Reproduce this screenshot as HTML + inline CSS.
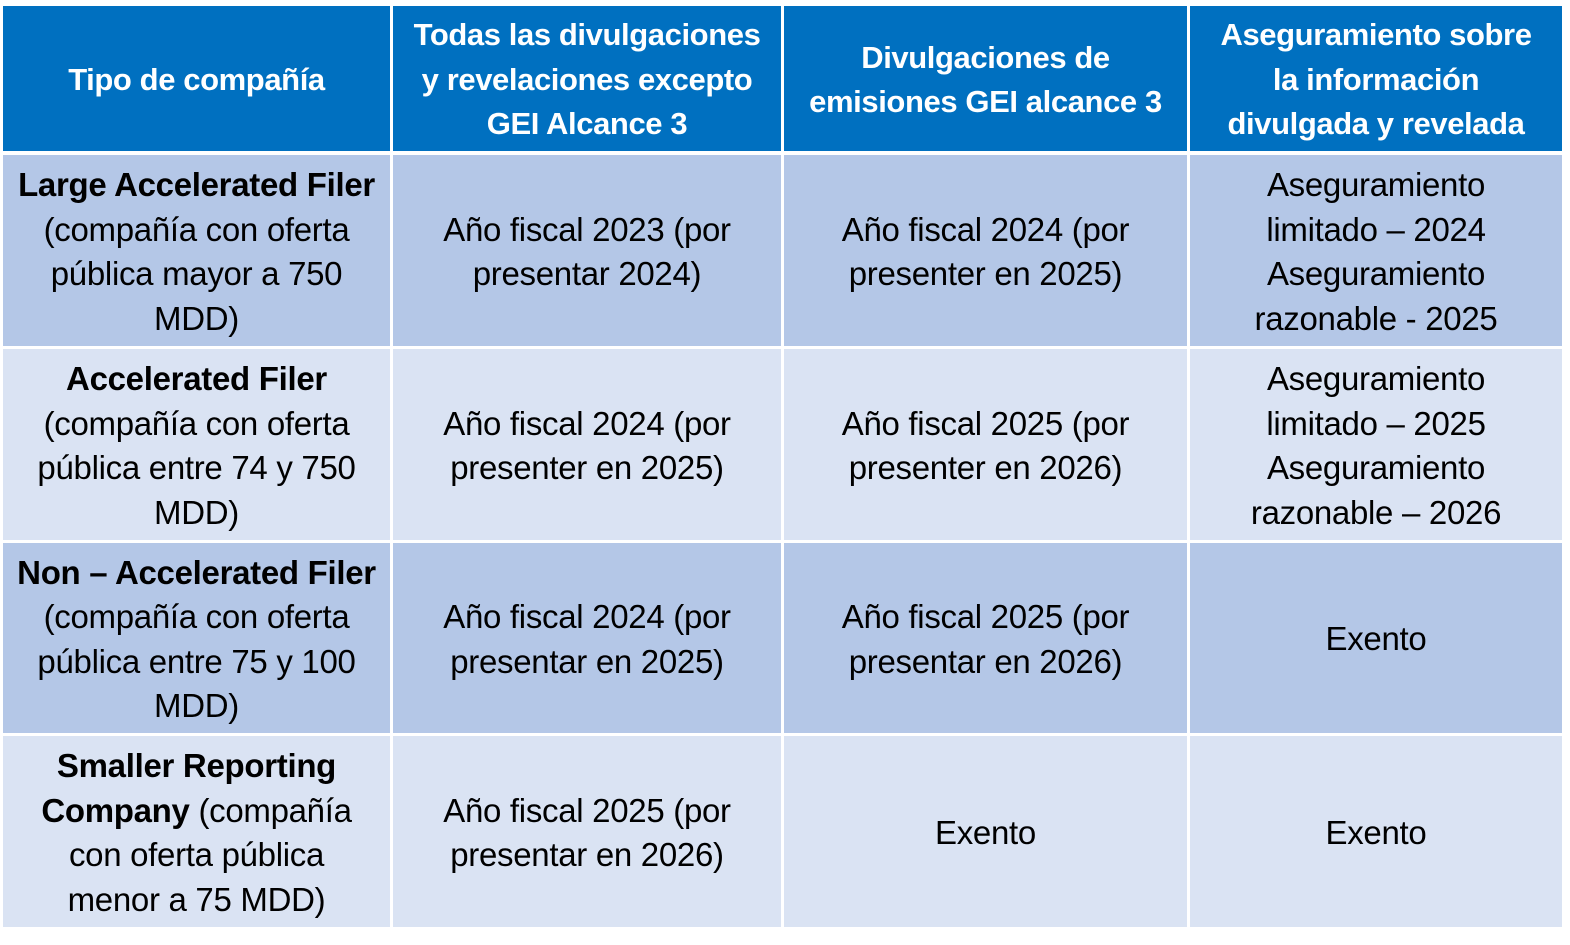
<!DOCTYPE html>
<html><head><meta charset="utf-8"><style>
body{margin:0;width:1570px;height:945px;background:#fff;position:relative;overflow:hidden;font-family:"Liberation Sans",sans-serif;}
.c{position:absolute;display:flex;align-items:center;justify-content:center;text-align:center;font-size:33px;line-height:44.5px;color:#000;letter-spacing:-0.3px;padding-top:3px;box-sizing:border-box;white-space:nowrap;}
.h{background:#0070C0;color:#fff;font-weight:bold;font-size:31px;letter-spacing:-0.4px;}
.a{background:#B4C7E7}.b{background:#DAE3F3}
</style></head><body>
<div class="c h" style="left:3px;top:6px;width:387px;height:145px">Tipo de compañía</div>
<div class="c h" style="left:393px;top:6px;width:388px;height:145px">Todas las divulgaciones<br>y revelaciones excepto<br>GEI Alcance 3</div>
<div class="c h" style="left:784px;top:6px;width:403px;height:145px">Divulgaciones de<br>emisiones GEI alcance 3</div>
<div class="c h" style="left:1190px;top:6px;width:372px;height:145px">Aseguramiento sobre<br>la información<br>divulgada y revelada</div>

<div class="c a" style="left:3px;top:155px;width:387px;height:191px"><div><b>Large Accelerated Filer</b><br>(compañía con oferta<br>pública mayor a 750<br>MDD)</div></div>
<div class="c a" style="left:393px;top:155px;width:388px;height:191px">Año fiscal 2023 (por<br>presentar 2024)</div>
<div class="c a" style="left:784px;top:155px;width:403px;height:191px">Año fiscal 2024 (por<br>presenter en 2025)</div>
<div class="c a" style="left:1190px;top:155px;width:372px;height:191px">Aseguramiento<br>limitado – 2024<br>Aseguramiento<br>razonable - 2025</div>

<div class="c b" style="left:3px;top:349px;width:387px;height:191px"><div><b>Accelerated Filer</b><br>(compañía con oferta<br>pública entre 74 y 750<br>MDD)</div></div>
<div class="c b" style="left:393px;top:349px;width:388px;height:191px">Año fiscal 2024 (por<br>presenter en 2025)</div>
<div class="c b" style="left:784px;top:349px;width:403px;height:191px">Año fiscal 2025 (por<br>presenter en 2026)</div>
<div class="c b" style="left:1190px;top:349px;width:372px;height:191px">Aseguramiento<br>limitado – 2025<br>Aseguramiento<br>razonable – 2026</div>

<div class="c a" style="left:3px;top:543px;width:387px;height:190px"><div><b>Non – Accelerated Filer</b><br>(compañía con oferta<br>pública entre 75 y 100<br>MDD)</div></div>
<div class="c a" style="left:393px;top:543px;width:388px;height:190px">Año fiscal 2024 (por<br>presentar en 2025)</div>
<div class="c a" style="left:784px;top:543px;width:403px;height:190px">Año fiscal 2025 (por<br>presentar en 2026)</div>
<div class="c a" style="left:1190px;top:543px;width:372px;height:190px">Exento</div>

<div class="c b" style="left:3px;top:736px;width:387px;height:191px"><div><b>Smaller Reporting<br>Company</b> (compañía<br>con oferta pública<br>menor a 75 MDD)</div></div>
<div class="c b" style="left:393px;top:736px;width:388px;height:191px">Año fiscal 2025 (por<br>presentar en 2026)</div>
<div class="c b" style="left:784px;top:736px;width:403px;height:191px">Exento</div>
<div class="c b" style="left:1190px;top:736px;width:372px;height:191px">Exento</div>
</body></html>
